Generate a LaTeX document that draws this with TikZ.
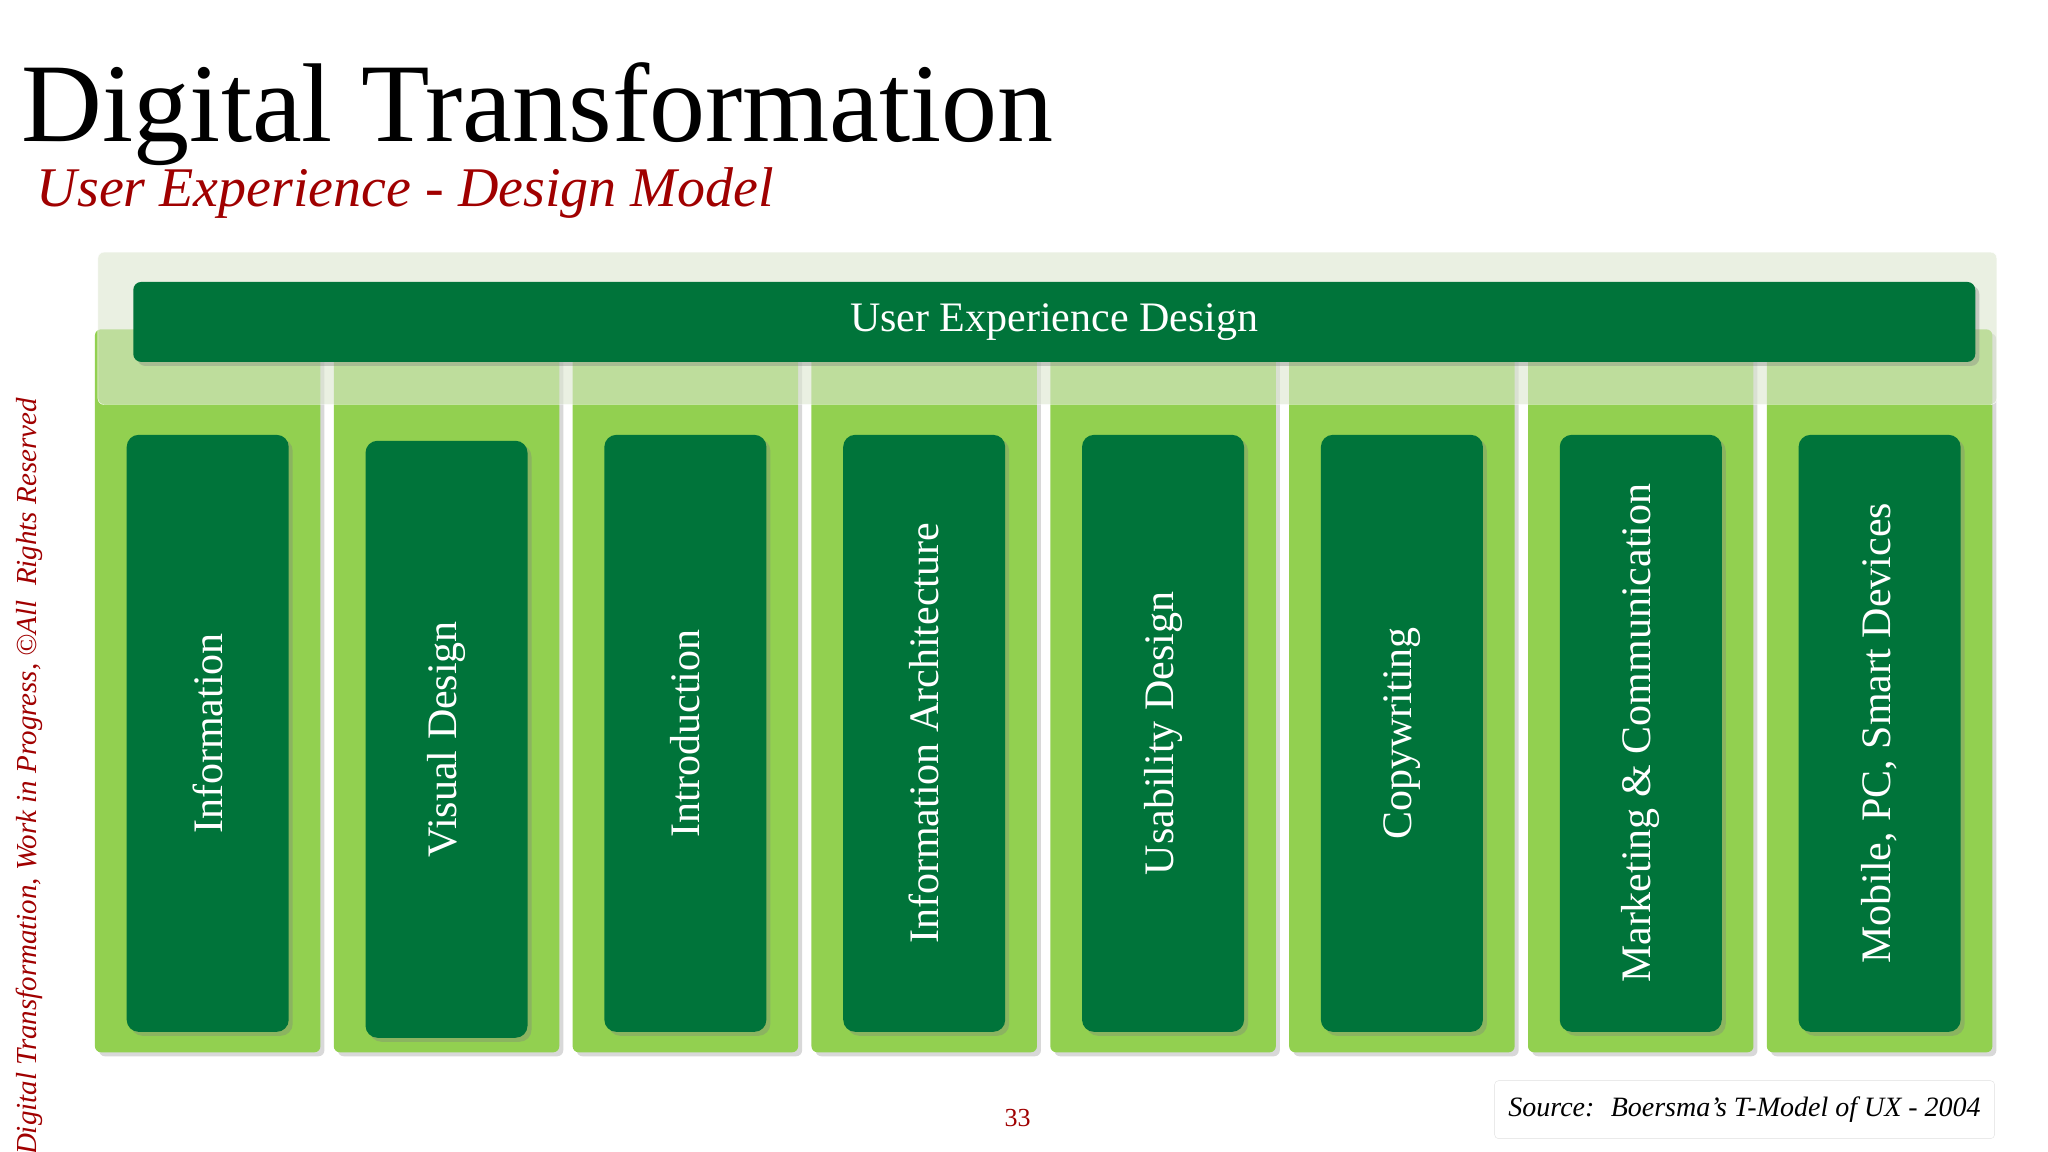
\documentclass[tikz,border=0pt]{standalone}
\usepackage{fontspec}
\setmainfont{Liberation Serif}
\usetikzlibrary{shadows}
\definecolor{dg}{HTML}{00743A}
\definecolor{lg}{HTML}{92D050}
\definecolor{band}{HTML}{DCE6D0}
\definecolor{dred}{HTML}{A00000}
\tikzset{
 colbox/.style={fill=lg,rounded corners=6pt,drop shadow={opacity=0.3,shadow xshift=4pt,shadow yshift=-4pt}},
 inbox/.style={fill=dg,rounded corners=12pt,drop shadow={opacity=0.35,shadow xshift=4pt,shadow yshift=-4pt},minimum width=162pt,minimum height=597pt},
 lab/.style={white,rotate=90,font=\fontsize{42}{46}\selectfont}
}
\begin{document}
\begin{tikzpicture}[x=0.989pt,y=-0.989pt]
\useasboundingbox[fill=white] (0,0) rectangle (2070.8,1164.8);
\node[anchor=base west,inner sep=0,font=\fontsize{112}{118}\selectfont] (title) at (22,143) {Digital Transformation};
\node[anchor=base west,inner sep=0,text=dred,font=\fontsize{56}{60}\selectfont\itshape] (sub) at (37,209) {User Experience - Design Model};
\foreach \i/\t/\dy in {0/Information/0,1/Visual Design/6,2/Introduction/0,3/Information Architecture/0,4/Usability Design/0,5/Copywriting/0,6/Marketing \& Communication/0,7/{Mobile, PC, Smart Devices}/0}{
  \path[colbox] ({96+241.5*\i},333) rectangle ({96+241.5*\i+228},1064);
  \node[inbox] (c\i) at ({96+241.5*\i+114},{741.5+\dy}) {};
  \node[lab] (l\i) at (c\i) {\t};
}
\path[fill=band,fill opacity=0.6,draw=white,rounded corners=6pt] (99,255) rectangle (2019,409);
\node[fill=dg,rounded corners=8pt,minimum width=1842pt,minimum height=80pt,text=white,font=\fontsize{42}{46}\selectfont,drop shadow={opacity=0.35,shadow xshift=4pt,shadow yshift=-4pt}] (top) at (1066,325.5) {User Experience Design};
\node[rotate=90,anchor=west,text=dred,font=\fontsize{29}{30}\selectfont\itshape,inner sep=0] (side) at (30,1168) {Digital Transformation, Work in Progress, ©All~~Rights Reserved};
\node[text=dred,font=\fontsize{26}{28}\selectfont] (pg) at (1029,1130) {33};
\node[draw=black!12,rounded corners=4pt,minimum width=500pt,minimum height=58pt,font=\fontsize{28}{30}\selectfont\itshape] (src) at (1764,1122) {Source:~ Boersma’s T-Model of UX - 2004};
\end{tikzpicture}
\end{document}
